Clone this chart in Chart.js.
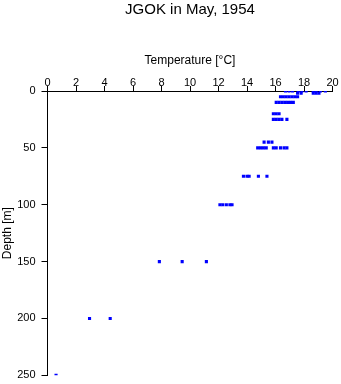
<!DOCTYPE html>
<html>
<head>
<meta charset="utf-8">
<script src="https://cdn.jsdelivr.net/npm/chart.js@4"></script>
<style>
  html, body { margin: 0; padding: 0; background: #fff; }
</style>
</head>
<body>
<canvas id="myChart" width="341" height="384"></canvas>
<script>
// Profundidades de muestreo [m]
var depthLevels = [0, 2, 5, 10, 20, 25, 45, 50, 75, 100, 150, 200, 250];

var temps0   = [16.7, 16.95, 17.2, 17.6, 17.85, 18.15, 18.65, 18.85, 19.15, 19.5];
var temps2   = [17.55, 17.8, 18.65, 18.85, 19.05];
var temps5   = [16.35, 16.55, 16.75, 16.95, 17.15, 17.35, 17.55];
var temps10  = [16.05, 16.25, 16.45, 16.65, 16.85, 17.05, 17.25];
var temps20  = [15.85, 16.05, 16.25];
var temps25  = [15.85, 16.05, 16.25, 16.45, 16.8];
var temps45  = [15.2, 15.5, 15.75];
var temps50  = [14.75, 14.95, 15.15, 15.35, 15.85, 16.05, 16.35, 16.6, 16.8];
var temps75  = [13.75, 14.0, 14.15, 14.8, 15.4];
var temps100 = [12.1, 12.3, 12.55, 12.8, 12.95];
var temps150 = [7.85, 9.45, 11.15];
var temps200 = [2.95, 4.4];
var temps250 = [0.6];

var tempsByLevel = [temps0, temps2, temps5, temps10, temps20, temps25, temps45,
                    temps50, temps75, temps100, temps150, temps200, temps250];

// Armar los puntos (x = temperatura, y = profundidad)
var puntos = [];
depthLevels.forEach(function (d, i) {
  tempsByLevel[i].forEach(function (t) {
    puntos.push({ x: t, y: d });
  });
});

var ctx = document.getElementById('myChart').getContext('2d');
var myChart = new Chart(ctx, {
  type: 'scatter',
  data: {
    datasets: [{
      label: 'JGOK',
      data: puntos,
      pointStyle: 'rect',
      pointRadius: 2.2,
      pointBorderWidth: 0,
      backgroundColor: '#0000ff',
      borderColor: '#0000ff'
    }]
  },
  options: {
    responsive: false,
    animation: false,
    events: [],
    layout: {
      padding: { left: 0, top: 0, right: 8.5, bottom: 8.7 }
    },
    plugins: {
      legend: { display: false },
      tooltip: { enabled: false },
      title: {
        display: true,
        fullSize: false,
        text: 'JGOK in May, 1954',
        color: '#000',
        font: { family: 'Liberation Sans', size: 15, weight: 'normal' },
        padding: { top: 1, bottom: 0 }
      }
    },
    scales: {
      x: {
        type: 'linear',
        position: 'top',
        min: 0,
        max: 20,
        afterFit: function (scale) { scale.height = 72; },
        ticks: {
          stepSize: 2,
          color: '#000',
          padding: -2,
          font: { family: 'Liberation Sans', size: 11, lineHeight: 1 }
        },
        grid: {
          drawOnChartArea: false,
          drawTicks: true,
          tickLength: 5,
          color: '#000'
        },
        border: { display: true, color: '#000', width: 1 },
        title: {
          display: true,
          text: 'Temperature [°C]',
          color: '#000',
          font: { family: 'Liberation Sans', size: 12, lineHeight: 1 },
          padding: { top: 36, bottom: 0 }
        }
      },
      y: {
        type: 'linear',
        reverse: true,
        min: 0,
        max: 250,
        afterFit: function (scale) {
          scale.width = 47.5;
          scale.paddingTop = 0;
          scale.paddingBottom = 0;
        },
        ticks: {
          stepSize: 50,
          color: '#000',
          padding: 6,
          font: { family: 'Liberation Sans', size: 11 }
        },
        grid: {
          drawOnChartArea: false,
          drawTicks: true,
          tickLength: 6,
          color: '#000'
        },
        border: { display: true, color: '#000', width: 1 },
        title: {
          display: true,
          text: 'Depth [m]',
          color: '#000',
          font: { family: 'Liberation Sans', size: 12, lineHeight: 1 },
          padding: { top: 2, bottom: 0 }
        }
      }
    }
  }
});
</script>
</body>
</html>
